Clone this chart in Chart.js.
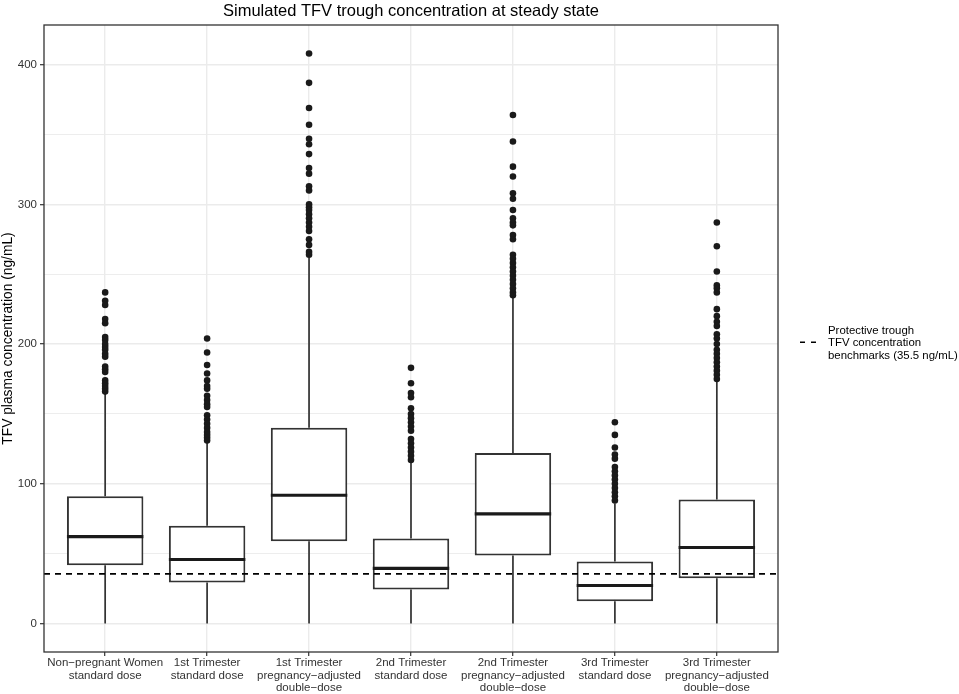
<!DOCTYPE html>
<html lang="en">
<head>
  <meta charset="UTF-8">
  <title>Simulated TFV trough concentration at steady state</title>
  <script src="https://cdn.jsdelivr.net/npm/chart.js"></script>
  <style>
    body {
      margin: 0;
      background-color: #fff;
    }

    #wrap {
      width: 959px;
      height: 694px;
      position: relative;
    }
  </style>
</head>
<body>
  <div id="wrap"><canvas id="graficoBox"></canvas></div>

  <script>
    // Datos
    const categories = [
      ["Non\u2212pregnant Women", "standard dose"],
      ["1st Trimester", "standard dose"],
      ["1st Trimester", "pregnancy\u2212adjusted", "double\u2212dose"],
      ["2nd Trimester", "standard dose"],
      ["2nd Trimester", "pregnancy\u2212adjusted", "double\u2212dose"],
      ["3rd Trimester", "standard dose"],
      ["3rd Trimester", "pregnancy\u2212adjusted", "double\u2212dose"]
    ];
    const whiskerLow = [0, 0, 0, 0, 0, 0, 0];
    const q1 = [41.7, 29.3, 58.9, 24.3, 48.7, 16.0, 32.4];
    const median = [62.2, 45.8, 91.8, 39.4, 78.4, 27.2, 54.4];
    const q3 = [91.1, 69.9, 140.2, 60.8, 122.1, 44.4, 88.7];
    const whiskerHigh = [164.6, 131.2, 262.0, 117.3, 234.7, 85.9, 172.9];
    const outliers = [
      [237, 231, 228, 218, 215, 205, 203, 200, 198, 196, 193, 191, 184, 182, 180, 174, 172, 170, 168, 166],
      [204, 194, 185, 179, 174, 170, 168, 163, 160, 157, 155, 149, 146, 143, 140, 137, 135, 133, 131],
      [408, 387, 369, 357, 347, 343, 336, 326, 322, 313, 310, 300, 298, 296, 293, 290, 287, 284, 281, 275, 271, 266, 264],
      [183, 172, 165, 162, 154, 150, 147, 144, 141, 138, 132, 129, 126, 123, 120, 117],
      [364, 345, 327, 320, 308, 304, 296, 290, 287, 285, 278, 275, 264, 261, 258, 255, 252, 249, 246, 243, 240, 237, 235],
      [144, 135, 126, 121, 118, 112, 109, 106, 103, 100, 97, 94, 91, 88],
      [287, 270, 252, 242, 240, 237, 225, 220, 216, 213, 207, 204, 200, 196, 193, 190, 187, 184, 181, 178, 175]
    ];
    const benchmark = 35.5;
    const yTicks = [0, 50, 100, 150, 200, 250, 300, 350, 400];
    const titleText = "Simulated TFV trough concentration at steady state";
    const yTitle = "TFV plasma concentration (ng/mL)";
    const legendLines = ["Protective trough", "TFV concentration", "benchmarks (35.5 ng/mL)"];

    const fuente = '"Liberation Sans", Arial, Helvetica, sans-serif';
    const halfBox = 0.375;

    // Construir datos para Chart.js
    const cajas = categories.map((c, i) => ({ x: i + 1, y: [q1[i], q3[i]] }));

    const bigotes = [];
    categories.forEach((c, i) => {
      bigotes.push({ x: i + 1, y: whiskerLow[i] }, { x: i + 1, y: q1[i] }, { x: i + 1, y: null });
      bigotes.push({ x: i + 1, y: q3[i] }, { x: i + 1, y: whiskerHigh[i] }, { x: i + 1, y: null });
    });

    const medianas = [];
    categories.forEach((c, i) => {
      medianas.push({ x: i + 1 - halfBox, y: median[i] }, { x: i + 1 + halfBox, y: median[i] }, { x: i + 1 + halfBox, y: null });
    });

    const puntos = [];
    outliers.forEach((lista, i) => lista.forEach(v => puntos.push({ x: i + 1, y: v })));

    // Borde del panel, título y leyenda
    const extras = {
      id: 'extras',
      afterDraw(chart) {
        const { ctx, chartArea: a } = chart;
        ctx.save();
        ctx.strokeStyle = '#333333';
        ctx.lineWidth = 1.3;
        ctx.strokeRect(a.left, a.top, a.right - a.left, a.bottom - a.top);

        ctx.fillStyle = '#000';
        ctx.font = '16.5px ' + fuente;
        ctx.textAlign = 'center';
        ctx.textBaseline = 'alphabetic';
        ctx.fillText(titleText, (a.left + a.right) / 2, 15.5);

        // leyenda
        ctx.strokeStyle = '#000';
        ctx.lineWidth = 1.6;
        ctx.setLineDash([5, 6]);
        ctx.beginPath();
        ctx.moveTo(a.right + 22, 342.3);
        ctx.lineTo(a.right + 40, 342.3);
        ctx.stroke();
        ctx.setLineDash([]);
        ctx.font = '11.4px ' + fuente;
        ctx.textAlign = 'left';
        legendLines.forEach((t, k) => ctx.fillText(t, a.right + 50, 334.3 + k * 12.1));
        ctx.restore();
      }
    };

    const ctx = document.getElementById('graficoBox').getContext('2d');
    new Chart(ctx, {
      type: 'bar',
      data: {
        datasets: [
          {
            type: 'line',
            data: bigotes,
            borderColor: '#333333',
            borderWidth: 1.7,
            pointRadius: 0,
            spanGaps: false,
            order: 5
          },
          {
            type: 'bar',
            data: cajas,
            backgroundColor: '#ffffff',
            borderColor: '#333333',
            borderWidth: 2,
            borderSkipped: false,
            categoryPercentage: 1,
            barPercentage: 0.75,
            order: 4
          },
          {
            type: 'line',
            data: medianas,
            borderColor: '#1a1a1a',
            borderWidth: 3.2,
            pointRadius: 0,
            spanGaps: false,
            order: 3
          },
          {
            type: 'scatter',
            data: puntos,
            backgroundColor: '#1a1a1a',
            borderWidth: 0,
            pointRadius: 3.3,
            order: 2
          },
          {
            type: 'line',
            data: [{ x: 0.4, y: benchmark }, { x: 7.6, y: benchmark }],
            borderColor: '#000',
            borderWidth: 1.6,
            borderDash: [6, 5],
            pointRadius: 0,
            order: 1
          }
        ]
      },
      options: {
        responsive: true,
        maintainAspectRatio: false,
        animation: false,
        layout: { padding: { top: 25, right: 181, left: 0, bottom: 0 } },
        plugins: {
          legend: { display: false },
          tooltip: { enabled: false }
        },
        scales: {
          x: {
            type: 'linear',
            min: 0.4,
            max: 7.6,
            offset: false,
            afterBuildTicks: s => { s.ticks = categories.map((c, i) => ({ value: i + 1 })); },
            afterFit: s => { s.height = 42; },
            ticks: {
              callback: (v) => categories[Math.round(v) - 1],
              color: '#333333',
              font: { family: fuente, size: 11.5, lineHeight: 1.07 },
              padding: 1,
              maxRotation: 0,
              autoSkip: false
            },
            grid: {
              offset: false,
              color: '#EBEBEB',
              lineWidth: 1.4,
              tickColor: '#333333',
              tickLength: 4,
              tickWidth: 1.2
            },
            border: { display: false }
          },
          y: {
            min: -20.4,
            max: 428.4,
            afterBuildTicks: s => { s.ticks = yTicks.map(v => ({ value: v })); },
            afterFit: s => { s.width = 44; },
            ticks: {
              callback: v => (v % 100 === 0 ? v : ''),
              color: '#333333',
              font: { family: fuente, size: 11.5 },
              padding: 3
            },
            grid: {
              color: '#EBEBEB',
              lineWidth: c => (c.tick && c.tick.value % 100 === 0 ? 1.4 : 0.9),
              tickColor: c => (c.tick && c.tick.value % 100 === 0 ? '#333333' : 'rgba(0,0,0,0)'),
              tickLength: 4,
              tickWidth: 1.2
            },
            border: { display: false },
            title: {
              display: true,
              text: yTitle,
              color: '#000',
              font: { family: fuente, size: 13.8 },
              padding: { top: 0, bottom: 0 }
            }
          }
        }
      },
      plugins: [extras]
    });
  </script>
</body>
</html>
